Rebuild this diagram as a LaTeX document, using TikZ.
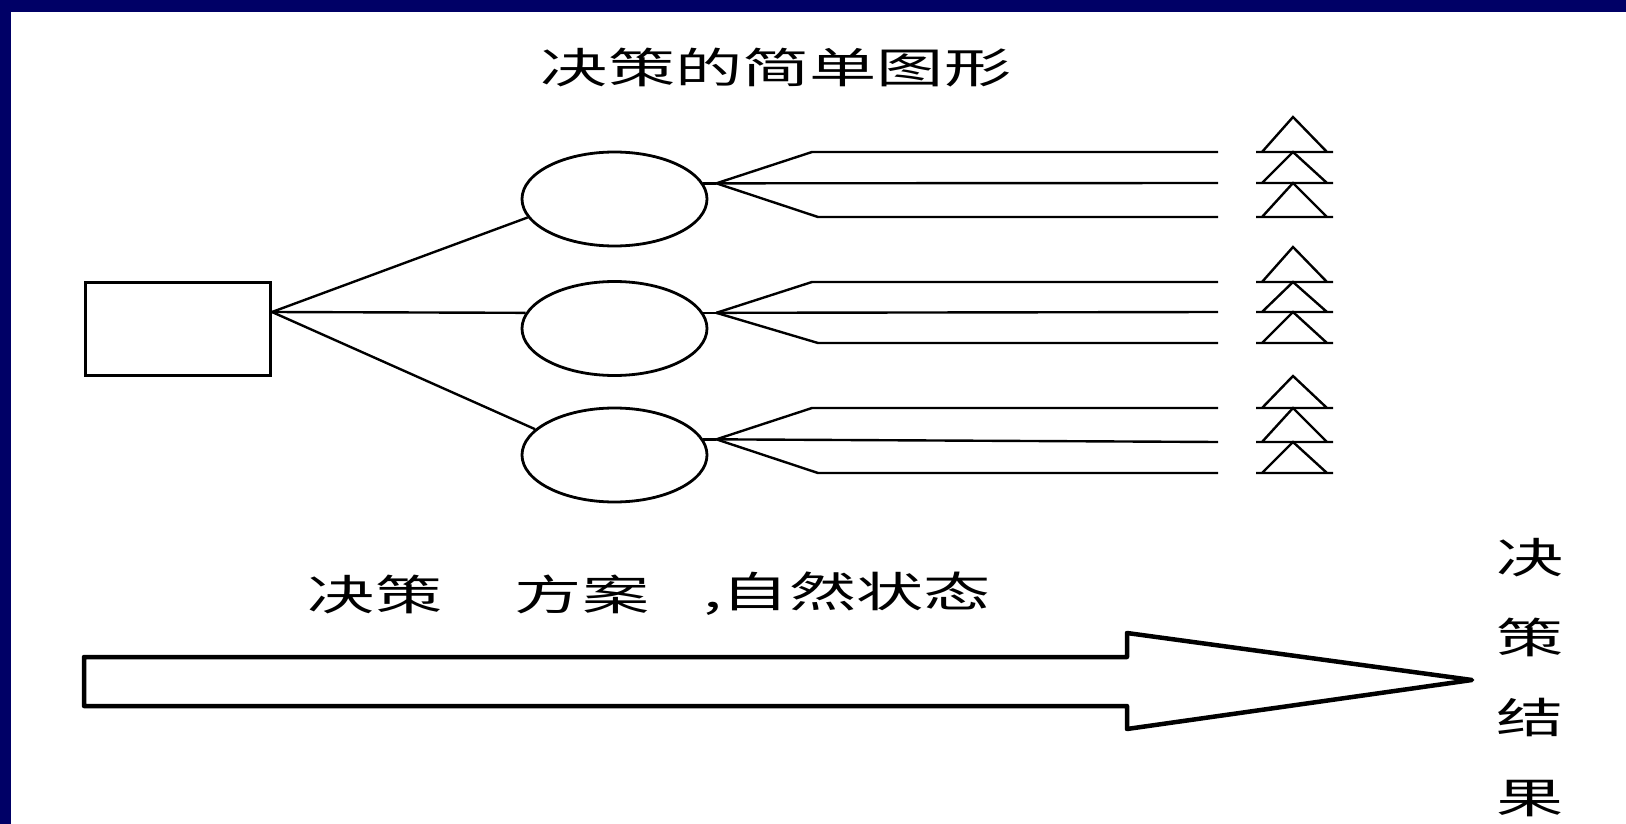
\documentclass[tikz,border=0pt]{standalone}
\usepackage{fontspec}
\newfontfamily\cjk{Noto Sans CJK SC}
\usetikzlibrary{shapes.geometric}
\definecolor{slidenavy}{RGB}{0,0,102}

\begin{document}
\begin{tikzpicture}[x=1pt, y=-1pt,
    act/.style={draw, line width=3pt, minimum width=185pt, minimum height=93pt, inner sep=0pt},
    chance/.style={draw, ellipse, line width=2.8pt, minimum width=185pt, minimum height=94pt, inner sep=0pt},
    cjk/.style={font=\cjk\fontsize{42}{80}\selectfont, xscale=1.6, inner sep=0pt},
    branch/.style={line width=2.4pt}]
\useasboundingbox (0,0) rectangle (1626,824);
\fill[white] (0,0) rectangle (1626,824);
\fill[slidenavy] (0,0) rectangle (1626,12);
\fill[slidenavy] (0,0) rectangle (11,824);

\node[cjk] (title) at (776,68) {决策的简单图形};

% decision box and the three alternatives
\node[act] (decision) at (177.5,328.5) {};
\node[chance] (alt1) at (614.5,199) {};
\node[chance] (alt2) at (614.5,328.5) {};
\node[chance] (alt3) at (614.5,455) {};

\coordinate (root) at (272,312);
\draw[branch] (root) -- (alt1.192);
\draw[branch] (root) -- (alt2.170);
\draw[branch] (root) -- (alt3.162);

% states of nature and outcomes
\foreach \g/\ytop/\ya/\yb/\yc in {1/117/152/183/217, 2/247/282/312/343, 3/376/408/442/473}{
    \draw[branch] (alt\g.10) -- ++(13,0) coordinate (fork\g);
    \coordinate (end\g-1) at (1218,\ya);
    \coordinate (end\g-2) at (1218,\yb);
    \coordinate (end\g-3) at (1218,\yc);
    \draw[branch] (fork\g) -- (812,\ya) -- (end\g-1);
    \draw[branch] (fork\g) -- (end\g-2);
    \draw[branch] (fork\g) -- (818,\yc) -- (end\g-3);
    \foreach \up/\dn in {\ytop/\ya, \ya/\yb, \yb/\yc}
        \draw[branch] (1256,\dn) -- (1333,\dn) (1262,\dn) -- (1293,\up) -- (1327,\dn);
}

\node[cjk] (stage1) at (375,594) {决策};
\node[cjk] (stage2) at (582,594) {方案};
\node[cjk, anchor=east] (stage3) at (991,594) {,自然状态};

% process arrow
\draw[line width=4.5pt, line join=round] (84,657) -- (1127,657) -- (1127,633) -- (1472,680)
    -- (1127,729) -- (1127,706) -- (84,706) -- cycle;

\node[cjk, align=center] (result) at (1530,678) {决\\策\\结\\果};
\end{tikzpicture}
\end{document}
